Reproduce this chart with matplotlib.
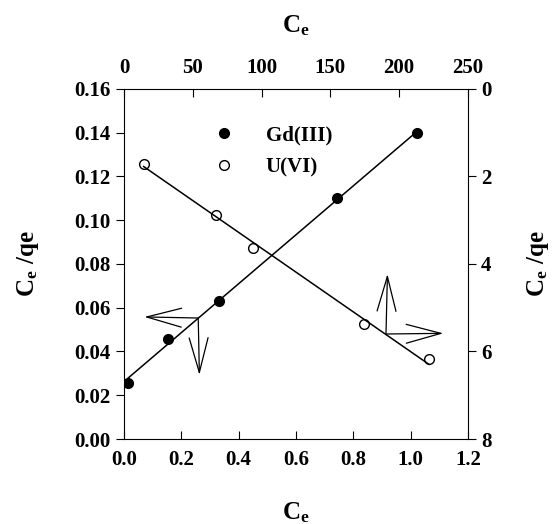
import numpy as np
import matplotlib
matplotlib.use("Agg")
import matplotlib.pyplot as plt

# Gd(III): bottom / left axes
gd_ce = [0.013, 0.152, 0.331, 0.742, 1.022]
gd_ratio = [0.0255, 0.0456, 0.0632, 0.110, 0.1397]

# U(VI): top / right axes (right axis reversed)
u_ce = [14.3, 67.1, 93.6, 174.6, 221.7]
u_ratio = [1.71, 2.87, 3.63, 5.37, 6.18]

bottom_ticks = [0.0, 0.2, 0.4, 0.6, 0.8, 1.0, 1.2]
left_ticks = [0.00, 0.02, 0.04, 0.06, 0.08, 0.10, 0.12, 0.14, 0.16]
top_ticks = [0, 50, 100, 150, 200, 250]
right_ticks = [0, 2, 4, 6, 8]

plt.rcParams["font.family"] = ["Liberation Serif", "DejaVu Serif"]
plt.rcParams["font.weight"] = "bold"
plt.rcParams["mathtext.fontset"] = "custom"
plt.rcParams["mathtext.rm"] = "Liberation Serif:weight=bold"
plt.rcParams["mathtext.bf"] = "Liberation Serif:weight=bold"
plt.rcParams["mathtext.it"] = "Liberation Serif:weight=bold"
plt.rcParams["mathtext.default"] = "bf"

TICK = 15
LAB = 18
XLAB = "$\\mathbf{C_e}$"
YLAB = "$\\mathbf{C_e\\ /qe}$"

fig = plt.figure(figsize=(5.55, 5.24), dpi=100)
pos = [0.2234, 0.1622, 0.6198, 0.668]
ax = fig.add_axes(pos)
ax2 = fig.add_axes(pos, frameon=False)

# Gd(III)
ax.plot(gd_ce, gd_ratio, "o", color="black", ms=7, label="Gd(III)")
k, b = np.polyfit(gd_ce, gd_ratio, 1)
xs = np.array([gd_ce[0], gd_ce[-1]])
ax.plot(xs, k * xs + b, color="black", lw=1.1)

ax.set_xlim(0, 1.2)
ax.set_ylim(0, 0.16)
ax.set_xticks(bottom_ticks)
ax.set_xticklabels([f"{t:.1f}" for t in bottom_ticks])
ax.set_yticks(left_ticks)
ax.set_yticklabels([f"{t:.2f}" for t in left_ticks])
ax.tick_params(axis="x", direction="in", length=6, labelsize=TICK, pad=8)
ax.tick_params(axis="y", direction="out", length=6, labelsize=TICK)
ax.set_xlabel(XLAB, fontsize=LAB, labelpad=22)
ax.set_ylabel(YLAB, fontsize=LAB, labelpad=24)

# U(VI)
ax2.plot(u_ce, u_ratio, "o", mfc="white", mec="black", mew=1, ms=7,
         label="U(VI)")
k2, b2 = np.polyfit(u_ce, u_ratio, 1)
xs2 = np.array([u_ce[0], u_ce[-1]])
ax2.plot(xs2, k2 * xs2 + b2, color="black", lw=1.1)

ax2.set_xlim(0, 250)
ax2.set_ylim(8, 0)
ax2.set_xticks(top_ticks)
ax2.set_yticks(right_ticks)
ax2.xaxis.tick_top()
ax2.yaxis.tick_right()
ax2.xaxis.set_label_position("top")
ax2.yaxis.set_label_position("right")
ax2.tick_params(axis="x", direction="in", length=6, labelsize=TICK, pad=8)
ax2.tick_params(axis="y", direction="out", length=6, labelsize=TICK)
ax2.set_xlabel(XLAB, fontsize=LAB, labelpad=18)
ax2.set_ylabel(YLAB, fontsize=LAB, labelpad=24)

# arrows pointing to the axis each line belongs to
arrow_kw = dict(arrowstyle="->,head_length=2.5,head_width=0.68",
                color="black", lw=0.9, shrinkA=0, shrinkB=0,
                mutation_scale=10)
ax.annotate("", xy=(0.071, 0.0558), xytext=(0.259, 0.0553),
            arrowprops=arrow_kw)
ax.annotate("", xy=(0.263, 0.0293), xytext=(0.259, 0.0553),
            arrowprops=arrow_kw)
ax.annotate("", xy=(0.919, 0.0754), xytext=(0.914, 0.048),
            arrowprops=arrow_kw)
ax.annotate("", xy=(1.114, 0.0483), xytext=(0.914, 0.048),
            arrowprops=arrow_kw)

# legend
h1, l1 = ax.get_legend_handles_labels()
h2, l2 = ax2.get_legend_handles_labels()
leg = ax2.legend(h1 + h2, l1 + l2, loc="upper left",
                 bbox_to_anchor=(0.2, 0.925), frameon=False,
                 prop={"size": TICK, "weight": "bold"},
                 handletextpad=1.0, labelspacing=0.55, borderpad=0)

fig.savefig("out.png", dpi=100)
